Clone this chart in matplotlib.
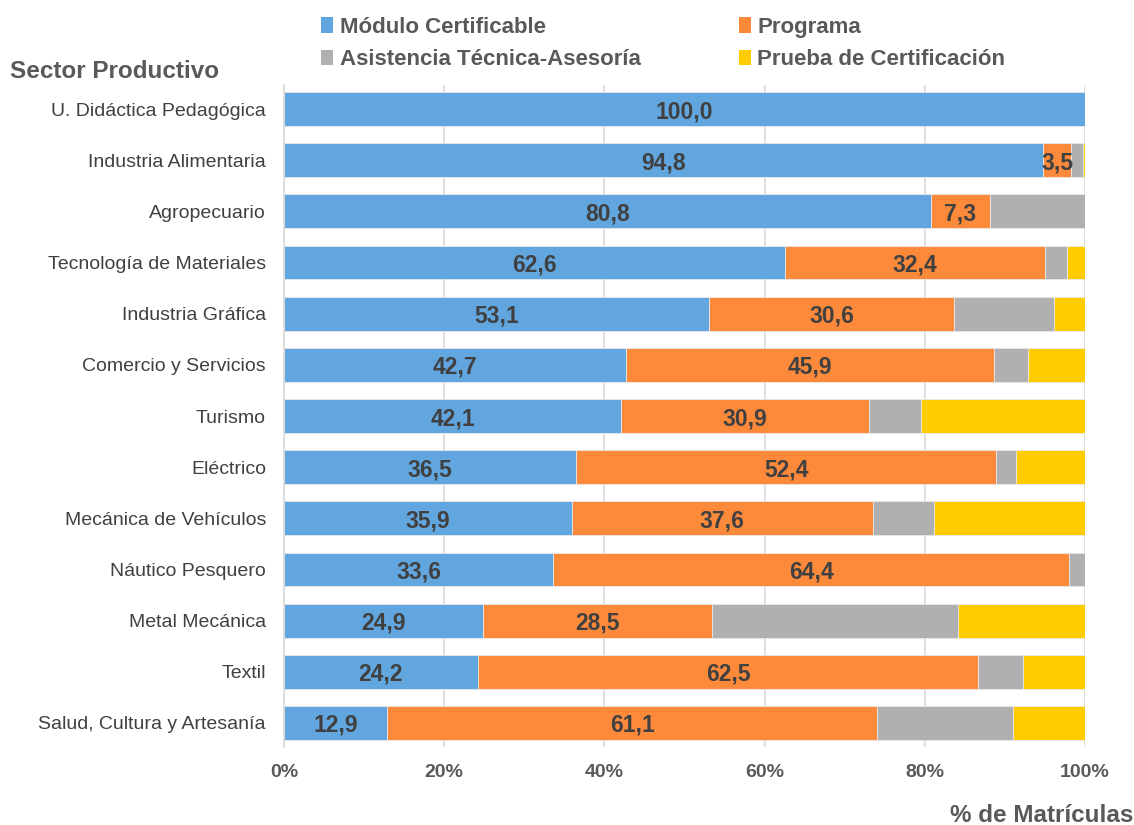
import numpy as np
import matplotlib
matplotlib.use('Agg')
from matplotlib import pyplot as plt
from matplotlib.patches import Patch

plt.rcParams['font.family'] = ['Liberation Sans', 'DejaVu Sans']

sectores = ['U. Didáctica Pedagógica', 'Industria Alimentaria', 'Agropecuario',
            'Tecnología de Materiales', 'Industria Gráfica', 'Comercio y Servicios',
            'Turismo', 'Eléctrico', 'Mecánica de Vehículos', 'Náutico Pesquero',
            'Metal Mecánica', 'Textil', 'Salud, Cultura y Artesanía']
modulo = [100.0, 94.8, 80.8, 62.6, 53.1, 42.7, 42.1, 36.5, 35.9, 33.6, 24.9, 24.2, 12.9]
programa = [0.0, 3.5, 7.3, 32.4, 30.6, 45.9, 30.9, 52.4, 37.6, 64.4, 28.5, 62.5, 61.1]
asistencia = [0.0, 1.5, 11.9, 2.7, 12.4, 4.3, 6.5, 2.5, 7.7, 2.0, 30.7, 5.5, 17.0]
prueba = [0.0, 0.2, 0.0, 2.3, 3.9, 7.1, 20.5, 8.6, 18.8, 0.0, 15.9, 7.8, 9.0]

series = ['Módulo Certificable', 'Programa', 'Asistencia Técnica-Asesoría', 'Prueba de Certificación']
colores = ['#62a6e0', '#fd8a3b', '#b0b0b0', '#ffcc00']
etiquetar = [True, True, False, False]

txt = '#404040'
fig = plt.figure(figsize=(11.34, 8.25), dpi=100)
ax = fig.add_axes([0.2504, 0.0945, 0.7064, 0.8025])

y = np.arange(len(sectores))
left = np.zeros(len(sectores))
for vals, col, lab in zip([modulo, programa, asistencia, prueba], colores, etiquetar):
    vals = np.array(vals)
    ax.barh(y, vals, left=left, height=0.66, color=col, edgecolor='#e8e8e8', linewidth=0.6, zorder=2)
    if lab:
        for yi, l, v in zip(y, left, vals):
            if v > 0:
                ax.text(l + v / 2, yi, ('%.1f' % v).replace('.', ','), ha='center', va='center_baseline',
                        fontsize=16.5, fontweight='bold', color=txt, zorder=3)
    left = left + vals

ax.set_xlim(0, 100)
ax.set_ylim(12.47, -0.47)
ax.set_yticks(y)
ax.set_yticklabels(sectores, fontsize=14, color=txt)
ax.set_xticks([0, 20, 40, 60, 80, 100])
ax.set_xticklabels(['0%', '20%', '40%', '60%', '80%', '100%'], fontsize=14, fontweight='bold', color='#595959')
ax.tick_params(length=0)
ax.tick_params(axis='y', pad=13)
ax.tick_params(axis='x', pad=12)
ax.grid(axis='x', color='#d9d9d9', linewidth=1.2, zorder=0)
for s in ['top', 'bottom', 'right']:
    ax.spines[s].set_visible(False)
ax.spines['left'].set_color('#d9d9d9')
ax.spines['left'].set_linewidth(1.2)

fig.text(10 / 1134, 1 - 72 / 825, 'Sector Productivo', fontsize=17.5, fontweight='bold', color='#595959',
         ha='left', va='center')
fig.text(1133 / 1134, 1 - 815 / 825, '% de Matrículas', fontsize=17.5, fontweight='bold', color='#595959',
         ha='right', va='center')

handles = [Patch(facecolor=c, label=s) for s, c in zip(series, colores)]
order = [0, 2, 1, 3]
leg = fig.legend([handles[i] for i in order], [series[i] for i in order], ncol=2,
                 loc='upper left', bbox_to_anchor=(301 / 1134, 1 + 3 / 825), frameon=False,
                 handlelength=0.55, handleheight=0.7, handletextpad=0.3, columnspacing=4.4,
                 labelspacing=0.5, prop={'size': 16, 'weight': 'bold'})
for t in leg.get_texts():
    t.set_color('#595959')

fig.savefig('out.png', dpi=100)
